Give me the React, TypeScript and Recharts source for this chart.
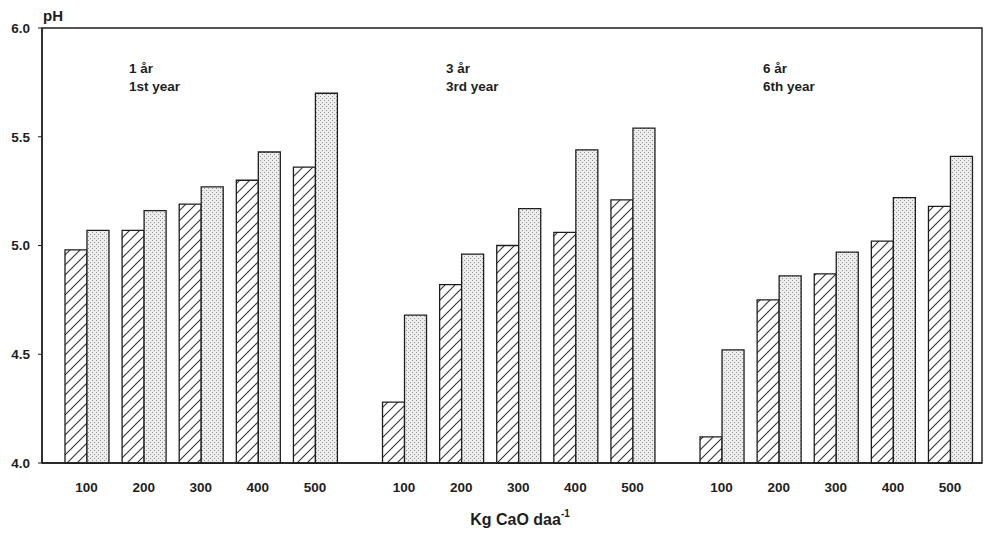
import { BarChart, Bar, XAxis, YAxis, ReferenceArea } from "recharts";

const doses = ["100", "200", "300", "400", "500"];
const yearsNo = ["1 år", "3 år", "6 år"];
const yearsEn = ["1st year", "3rd year", "6th year"];

// pH per dose, one row per year
const seriesA = [
  [4.98, 5.07, 5.19, 5.3, 5.36],
  [4.28, 4.82, 5.0, 5.06, 5.21],
  [4.12, 4.75, 4.87, 5.02, 5.18],
];
const seriesB = [
  [5.07, 5.16, 5.27, 5.43, 5.7],
  [4.68, 4.96, 5.17, 5.44, 5.54],
  [4.52, 4.86, 4.97, 5.22, 5.41],
];
const yTicks = [4.0, 4.5, 5.0, 5.5, 6.0];

// groups are spread a bit more than one slot apart on a numeric axis
const GROUP_STRIDE = 5.56;
const data = seriesA.flatMap((row, g) =>
  row.map((a, i) => ({
    x: +(g * GROUP_STRIDE + i).toFixed(2),
    dose: doses[i],
    a,
    b: seriesB[g][i],
  }))
);

const font = "'Liberation Sans', Arial, sans-serif";
const ink = "#1e1e1e";

export default function App() {
  return (
    <div style={{ position: "absolute", left: 0, top: 0, width: 996, height: 545, background: "#fff" }}>
      <BarChart
        width={996}
        height={545}
        data={data}
        margin={{ top: 28, right: 14, bottom: 52, left: 0 }}
        barGap={0}
        barSize={22}
      >
        <defs>
          <pattern id="hatch" patternUnits="userSpaceOnUse" width="10" height="10">
            <rect width="10" height="10" fill="#fff" />
            <path d="M0,10 L10,0 M-2.5,2.5 L2.5,-2.5 M7.5,12.5 L12.5,7.5" stroke="#333" strokeWidth="1.1" />
          </pattern>
          <pattern id="dots" patternUnits="userSpaceOnUse" width="4" height="4">
            <rect width="4" height="4" fill="#ececec" />
            <rect x="0" y="0" width="1" height="1" fill="#9a9a9a" />
            <rect x="2" y="2" width="1" height="1" fill="#9a9a9a" />
          </pattern>
        </defs>
        <ReferenceArea
          x1={-0.78}
          x2={15.68}
          y1={4}
          y2={6}
          fill="none"
          stroke={ink}
          strokeWidth={1.4}
          ifOverflow="visible"
        />
        <XAxis
          dataKey="x"
          type="number"
          domain={[-0.78, 15.68]}
          ticks={data.map((d) => d.x)}
          interval={0}
          tickFormatter={(_v: number, i: number) => doses[i % doses.length]}
          tickLine={false}
          tickSize={6}
          tickMargin={13}
          height={30}
          axisLine={{ stroke: ink, strokeWidth: 1.4 }}
          tick={{ fill: ink, fontSize: 13.5, fontWeight: 700, fontFamily: font }}
        />
        <YAxis
          domain={[4, 6]}
          ticks={yTicks}
          width={42}
          tickSize={4}
          tickMargin={8}
          tickFormatter={(v: number) => v.toFixed(1)}
          axisLine={{ stroke: ink, strokeWidth: 1.4 }}
          tickLine={{ stroke: ink }}
          tick={{ fill: ink, fontSize: 13.5, fontWeight: 700, fontFamily: font }}
        />
        <Bar dataKey="a" fill="url(#hatch)" stroke={ink} strokeWidth={1.3} isAnimationActive={false} />
        <Bar dataKey="b" fill="url(#dots)" stroke={ink} strokeWidth={1.3} isAnimationActive={false} />
        <text x={43} y={21} fill={ink} fontSize={15} fontWeight={700} fontFamily={font}>
          pH
        </text>
        {yearsNo.map((y, g) => (
          <g key={y} fontFamily={font} fontWeight={700} fontSize={13.5} fill={ink}>
            <text x={129 + g * 317}y={73}>{y}</text>
            <text x={129 + g * 317} y={91}>{yearsEn[g]}</text>
          </g>
        ))}
        <text x={520} y={525} textAnchor="middle" fill={ink} fontSize={16} fontWeight={700} fontFamily={font}>
          Kg CaO daa
          <tspan dy={-8} fontSize={10}>-1</tspan>
        </text>
      </BarChart>
    </div>
  );
}
